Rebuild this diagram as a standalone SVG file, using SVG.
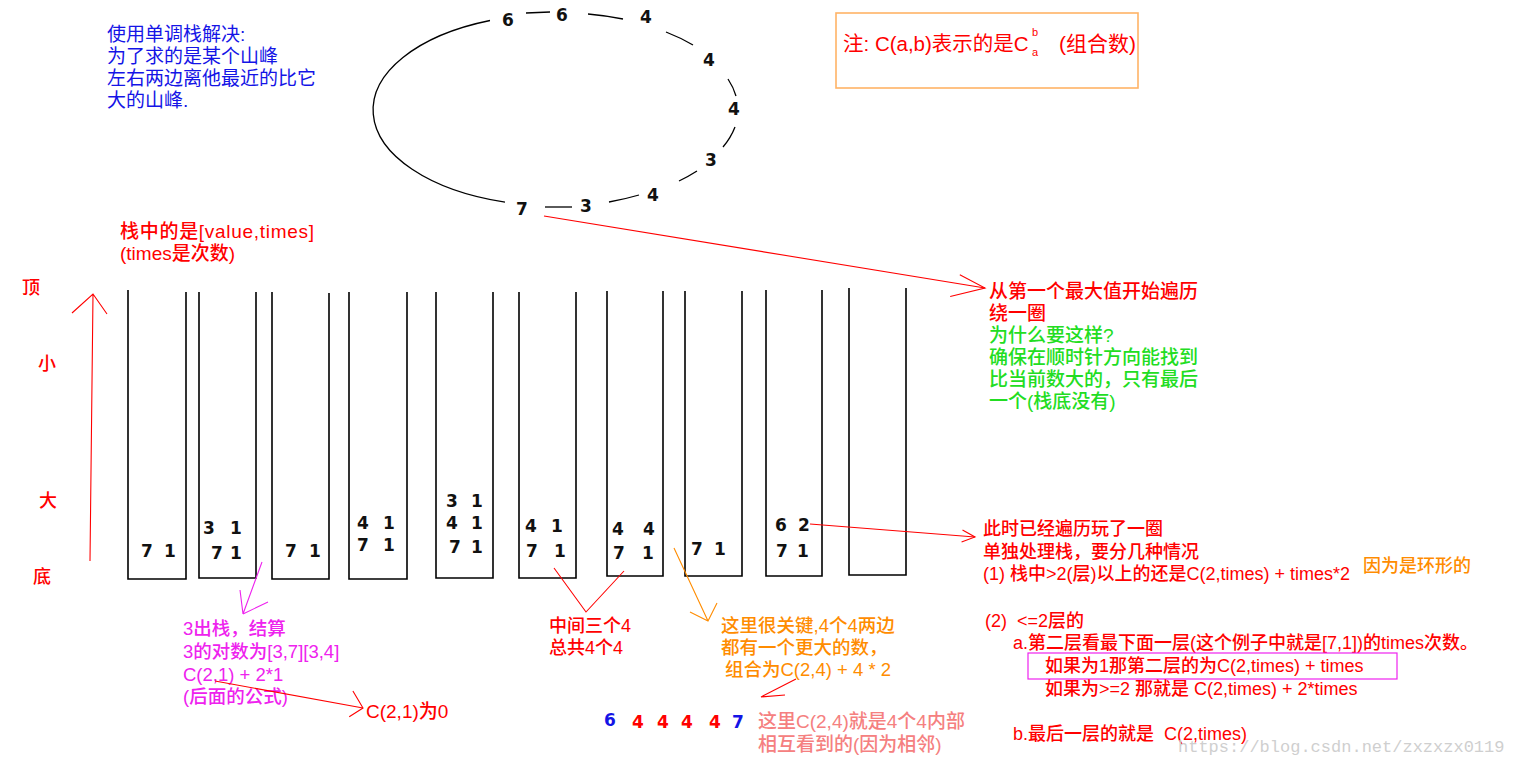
<svg xmlns="http://www.w3.org/2000/svg" width="1513" height="762" viewBox="0 0 1513 762">
<style>
.t{font-family:"Liberation Sans","Noto Sans CJK SC",sans-serif;font-size:18px;font-weight:500}
.num{font-family:"DejaVu Sans","Liberation Sans",sans-serif;font-size:17px;font-weight:bold;fill:#111;text-anchor:middle}
.red{fill:#ff0000}.blue{fill:#1414e6}.green{fill:#22dd22}.orange{fill:#ff8c00}.mag{fill:#ee22ee}.pink{fill:#f58080}
.ring{fill:none;stroke:#000;stroke-width:1.3}
.stack{fill:none;stroke:#000;stroke-width:1.6}
.cr{fill:none;stroke:#ff0000;stroke-width:1.1}
.co{fill:none;stroke:#ff8c00;stroke-width:1.1}
.cm{fill:none;stroke:#ee22ee;stroke-width:1.1}
</style>
<defs>
<marker id="aBig" markerUnits="userSpaceOnUse" orient="auto" refX="0" refY="0" overflow="visible"><path d="M-27,-9 L0,0 L-33,14" fill="none" stroke="#ff0000" stroke-width="1.1"/></marker>
<marker id="aSmall" markerUnits="userSpaceOnUse" orient="auto" refX="0" refY="0" overflow="visible"><path d="M-13,-6 L0,0 L-13,6" fill="none" stroke="#ff0000" stroke-width="1.1"/></marker>
<marker id="aMed" markerUnits="userSpaceOnUse" orient="auto" refX="0" refY="0" overflow="visible"><path d="M-13,-15 L0,0 L-12,11" fill="none" stroke="#ff0000" stroke-width="1.1"/></marker>
</defs>
<rect width="1513" height="762" fill="#fff"/>

<g id="intro">
<text class="t blue" style="font-size:19px;font-weight:400"><tspan x="107" y="41">使用单调栈解决:</tspan><tspan x="107" y="63">为了求的是某个山峰</tspan><tspan x="107" y="85">左右两边离他最近的比它</tspan><tspan x="107" y="107">大的山峰.</tspan></text>
</g>

<g id="ring">
<path class="ring" d="M490,20.5 A183,96 0 0 0 505,202.2"/>
<path class="ring" d="M526,13 L550,12"/>
<path class="ring" d="M588,14 A183,96 0 0 1 623,19"/>
<path class="ring" d="M666,32 A183,96 0 0 1 693,45"/>
<path class="ring" d="M728,79 A183,96 0 0 1 736,96"/>
<path class="ring" d="M735,127 A183,96 0 0 1 723,147"/>
<path class="ring" d="M697,171 A183,96 0 0 1 679,181"/>
<path class="ring" d="M639,195 A183,96 0 0 1 609,202"/>
<path class="ring" d="M545,207 L572,207"/>
<text class="num" x="508" y="26">6</text>
<text class="num" x="562" y="21">6</text>
<text class="num" x="646" y="23">4</text>
<text class="num" x="709" y="66">4</text>
<text class="num" x="734" y="115">4</text>
<text class="num" x="711" y="166">3</text>
<text class="num" x="653" y="201">4</text>
<text class="num" x="522" y="215">7</text>
<text class="num" x="586" y="212">3</text>
</g>

<g id="note">
<rect x="836" y="13" width="302" height="75" fill="none" stroke="#ffb366" stroke-width="1.6"/>
<text class="t red" x="843" y="51" style="font-size:20.5px;font-weight:400">注: C(a,b)表示的是C</text>
<text class="t red" x="1032" y="36" style="font-size:11px;font-weight:400">b</text>
<text class="t red" x="1032" y="56" style="font-size:11px;font-weight:400">a</text>
<text class="t red" x="1059" y="51" style="font-size:21px;font-weight:400">(组合数)</text>
</g>

<g id="stack-legend">
<text class="t red" style="font-size:19px"><tspan x="120" y="238" textLength="194" lengthAdjust="spacing">栈中的是[value,times]</tspan><tspan x="120" y="260">(times是次数)</tspan></text>
<text class="t red" x="22" y="294">顶</text>
<text class="t red" x="38" y="370">小</text>
<text class="t red" x="39" y="507">大</text>
<text class="t red" x="33" y="583">底</text>
</g>

<g id="stack1"><path class="stack" d="M128,290 V579 H186 V292"/>
<text class="num" x="147" y="557">7</text><text class="num" x="170" y="557">1</text></g>
<g id="stack2"><path class="stack" d="M199,292 V578 H256 V292"/>
<text class="num" x="209" y="534">3</text><text class="num" x="236" y="534">1</text>
<text class="num" x="217" y="559">7</text><text class="num" x="236" y="559">1</text></g>
<g id="stack3"><path class="stack" d="M272,292 V579 H329 V293"/>
<text class="num" x="291" y="557">7</text><text class="num" x="315" y="557">1</text></g>
<g id="stack4"><path class="stack" d="M349,292 V579 H407 V292"/>
<text class="num" x="363" y="529">4</text><text class="num" x="389" y="529">1</text>
<text class="num" x="363" y="551">7</text><text class="num" x="389" y="551">1</text></g>
<g id="stack5"><path class="stack" d="M436,292 V578 H493 V292"/>
<text class="num" x="452" y="507">3</text><text class="num" x="477" y="507">1</text>
<text class="num" x="452" y="529">4</text><text class="num" x="477" y="529">1</text>
<text class="num" x="455" y="553">7</text><text class="num" x="477" y="553">1</text></g>
<g id="stack6"><path class="stack" d="M519,292 V578 H576 V292"/>
<text class="num" x="531" y="532">4</text><text class="num" x="557" y="532">1</text>
<text class="num" x="532" y="557">7</text><text class="num" x="560" y="557">1</text></g>
<g id="stack7"><path class="stack" d="M607,291 V576 H663 V291"/>
<text class="num" x="618" y="535">4</text><text class="num" x="649" y="535">4</text>
<text class="num" x="619" y="559">7</text><text class="num" x="648" y="559">1</text></g>
<g id="stack8"><path class="stack" d="M685,291 V576 H742 V291"/>
<text class="num" x="697" y="555">7</text><text class="num" x="720" y="555">1</text></g>
<g id="stack9"><path class="stack" d="M766,290 V576 H822 V290"/>
<text class="num" x="781" y="531">6</text><text class="num" x="804" y="531">2</text>
<text class="num" x="782" y="557">7</text><text class="num" x="803" y="557">1</text></g>
<g id="stack10"><path class="stack" d="M849,288 V575 H906 V288"/></g>

<g id="traverse-note">
<text class="t" style="font-size:19px"><tspan class="red" x="989" y="298">从第一个最大值开始遍历</tspan><tspan class="red" x="989" y="320">绕一圈</tspan><tspan class="green" x="989" y="342">为什么要这样?</tspan><tspan class="green" x="989" y="364">确保在顺时针方向能找到</tspan><tspan class="green" x="989" y="386">比当前数大的，只有最后</tspan><tspan class="green" x="989" y="408">一个(栈底没有)</tspan></text>
</g>

<g id="pop3-note">
<text class="t mag" style="font-size:18.5px"><tspan x="183" y="635">3出栈，结算</tspan><tspan x="183" y="658">3的对数为[3,7][3,4]</tspan><tspan x="183" y="681">C(2,1) + 2*1</tspan><tspan x="183" y="703">(后面的公式)</tspan></text>
</g>
<g id="c21-note"><text class="t red" style="font-size:19px" x="366" y="718">C(2,1)为0</text></g>

<g id="middle-note">
<text class="t red"><tspan x="549" y="632">中间三个4</tspan><tspan x="549" y="654">总共4个4</tspan></text>
</g>

<g id="key-note">
<text class="t orange" style="font-size:18.5px"><tspan x="721" y="632">这里很关键,4个4两边</tspan><tspan x="721" y="654">都有一个更大的数，</tspan><tspan x="725" y="676">组合为C(2,4) + 4 * 2</tspan></text>
</g>

<g id="sequence">
<text class="num" x="610" y="726" style="fill:#1414e6">6</text>
<text class="num" x="638" y="728" style="fill:#ff0000">4</text>
<text class="num" x="663" y="728" style="fill:#ff0000">4</text>
<text class="num" x="687" y="728" style="fill:#ff0000">4</text>
<text class="num" x="715" y="728" style="fill:#ff0000">4</text>
<text class="num" x="738" y="728" style="fill:#1414e6">7</text>
</g>

<g id="inner-note">
<text class="t pink" style="font-size:19px"><tspan x="758" y="728">这里C(2,4)就是4个4内部</tspan><tspan x="758" y="751">相互看到的(因为相邻)</tspan></text>
</g>

<g id="final-note">
<text class="t red"><tspan x="983" y="535">此时已经遍历玩了一圈</tspan><tspan x="983" y="558">单独处理栈，要分几种情况</tspan><tspan x="983" y="580">(1) 栈中&gt;2(层)以上的还是C(2,times) + times*2</tspan></text>
<text class="t orange" x="1363" y="572">因为是环形的</text>
<text class="t red" xml:space="preserve"><tspan x="985" y="627">(2)  &lt;=2层的</tspan><tspan x="1013" y="649">a.第二层看最下面一层(这个例子中就是[7,1])的times次数。</tspan></text>
<rect x="1028" y="653" width="369" height="26" fill="none" stroke="#ee22ee" stroke-width="1.2"/>
<text class="t red" xml:space="preserve"><tspan x="1045" y="672">如果为1那第二层的为C(2,times) + times</tspan><tspan x="1045" y="695">如果为&gt;=2 那就是 C(2,times) + 2*times</tspan><tspan x="1013" y="740">b.最后一层的就是  C(2,times)</tspan></text>
</g>

<g id="watermark"><text x="1178" y="752" style="font-family:'Liberation Mono',monospace;font-size:17px;fill:#cfcfcf">https://blog.csdn.net/zxzxzx0119</text></g>

<g id="connectors">
<path class="cr" d="M544,216 L985,288" marker-end="url(#aBig)"/>
<path class="cr" d="M810,524 L975,537" marker-end="url(#aSmall)"/>
<path class="cr" d="M90,561 L93,294 M72,313 L93,294 L107,314"/>
<path class="cm" d="M262,562 L243,614 L240,590 M243,614 L268,602"/>
<path class="cr" d="M215,681 L363,708" marker-end="url(#aMed)"/>
<path class="cr" d="M554,568 L586,612 L624,571"/>
<path class="co" d="M674,548 L708,621 M690,612 L708,621 L717,603"/>
<path class="cr" d="M796,679 L761,697 L785,695"/>
</g>
</svg>
